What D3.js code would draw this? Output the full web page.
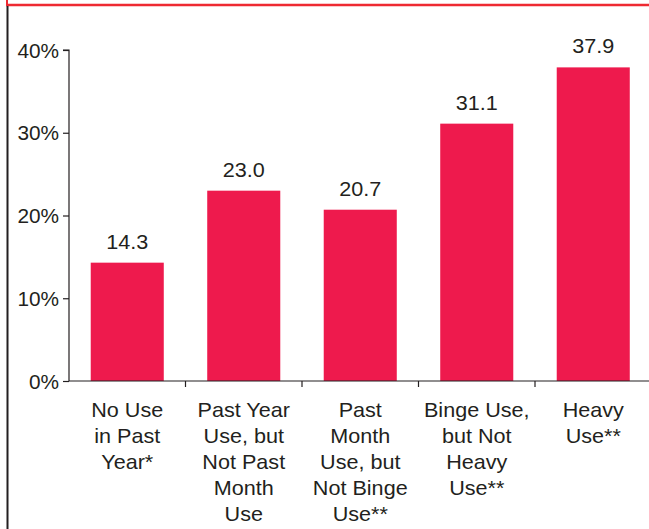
<!DOCTYPE html>
<html>
<head>
<meta charset="utf-8">
<script src="https://cdn.jsdelivr.net/npm/d3@7"></script>
<style>
  body { margin: 0; background: #fff; }
  svg { display: block; font-family: "Liberation Sans", Arial, sans-serif; }
</style>
</head>
<body>
<svg id="chart" width="649" height="529"></svg>
<script>
// DATA
var categories = [
    ['No Use', 'in Past', 'Year*'],
    ['Past Year', 'Use, but', 'Not Past', 'Month', 'Use'],
    ['Past', 'Month', 'Use, but', 'Not Binge', 'Use**'],
    ['Binge Use,', 'but Not', 'Heavy', 'Use**'],
    ['Heavy', 'Use**']
];
var values = [14.3, 23.0, 20.7, 31.1, 37.9];
var y_ticks = [0, 10, 20, 30, 40];

var ink = '#231f20';
var bar_color = '#ee1a4d';
var font_size = 20;
var stretch = 1.08;   // the original type is set a little wide

var svg = d3.select('svg#chart');

// frame: red rule on top, dark rule down the left
svg.append('line')
    .attr('x1', 6).attr('x2', 649).attr('y1', 5).attr('y2', 5)
    .attr('stroke', '#ee2a32').attr('stroke-width', 2.5);
svg.append('line')
    .attr('x1', 7).attr('x2', 7).attr('y1', 0).attr('y2', 5)
    .attr('stroke', '#ee2a32').attr('stroke-width', 2);
svg.append('line')
    .attr('x1', 7.5).attr('x2', 7.5).attr('y1', 6).attr('y2', 529)
    .attr('stroke', ink).attr('stroke-width', 2);

var plot = { left: 69, right: 651.5, bottom: 381, top: 50 };

var x = d3.scaleBand()
    .domain(d3.range(values.length))
    .range([plot.left, plot.right])
    .paddingInner(0.373)
    .paddingOuter(0.1865);
var y = d3.scaleLinear().domain([0, 40]).range([plot.bottom, plot.top]);

function mid(i) { return x(i) + x.bandwidth() / 2; }

// bars
svg.selectAll('rect.bar')
    .data(values)
    .enter().append('rect')
    .attr('class', 'bar')
    .attr('x', function(d, i) { return x(i); })
    .attr('width', x.bandwidth())
    .attr('y', function(d) { return y(d); })
    .attr('height', function(d) { return plot.bottom - y(d); })
    .attr('fill', bar_color);

// value labels
svg.selectAll('text.val')
    .data(values)
    .enter().append('text')
    .attr('class', 'val')
    .attr('transform', function(d, i) {
        return 'translate(' + mid(i) + ',' + (y(d) - 14) + ') scale(' + stretch + ',1)';
    })
    .attr('text-anchor', 'middle')
    .attr('font-size', font_size)
    .attr('fill', ink)
    .text(function(d) { return d.toFixed(1); });

// Y axis
var y_axis = svg.append('g')
    .attr('transform', 'translate(' + plot.left + ',0)')
    .call(d3.axisLeft(y).tickValues(y_ticks).tickSize(6).tickPadding(3)
        .tickFormat(function(d) { return d + '%'; }));
y_axis.selectAll('path, line').attr('stroke', ink).attr('stroke-width', 1.2);
y_axis.selectAll('text')
    .attr('x', 0)
    .attr('transform', 'translate(-10,0) scale(1.04,1)')
    .attr('font-size', font_size).attr('fill', ink)
    .attr('font-family', '"Liberation Sans", Arial, sans-serif')
    .attr('dy', '0.36em');
y_axis.select('path.domain').attr('d', 'M-6,' + plot.top + 'H0V' + plot.bottom);

// X axis: a baseline with ticks between the categories
var step = x.step();
var x_axis = svg.append('g');
x_axis.append('line')
    .attr('x1', plot.left).attr('x2', plot.right)
    .attr('y1', plot.bottom).attr('y2', plot.bottom)
    .attr('stroke', ink).attr('stroke-width', 1.2);
x_axis.selectAll('line.tick')
    .data(d3.range(1, values.length))
    .enter().append('line')
    .attr('class', 'tick')
    .attr('x1', function(i) { return x(i) - x.paddingInner() * step / 2; })
    .attr('x2', function(i) { return x(i) - x.paddingInner() * step / 2; })
    .attr('y1', plot.bottom).attr('y2', plot.bottom + 6)
    .attr('stroke', ink).attr('stroke-width', 1.2);

// category labels
var cat = svg.selectAll('text.cat')
    .data(categories)
    .enter().append('text')
    .attr('class', 'cat')
    .attr('transform', function(d, i) {
        return 'translate(' + mid(i) + ',417) scale(' + stretch + ',1)';
    })
    .attr('text-anchor', 'middle')
    .attr('font-size', font_size)
    .attr('fill', ink);
cat.each(function(lines) {
    var t = d3.select(this);
    lines.forEach(function(l, j) {
        t.append('tspan')
            .attr('x', 0)
            .attr('y', j * 26)
            .text(l);
    });
});
</script>
</body>
</html>
